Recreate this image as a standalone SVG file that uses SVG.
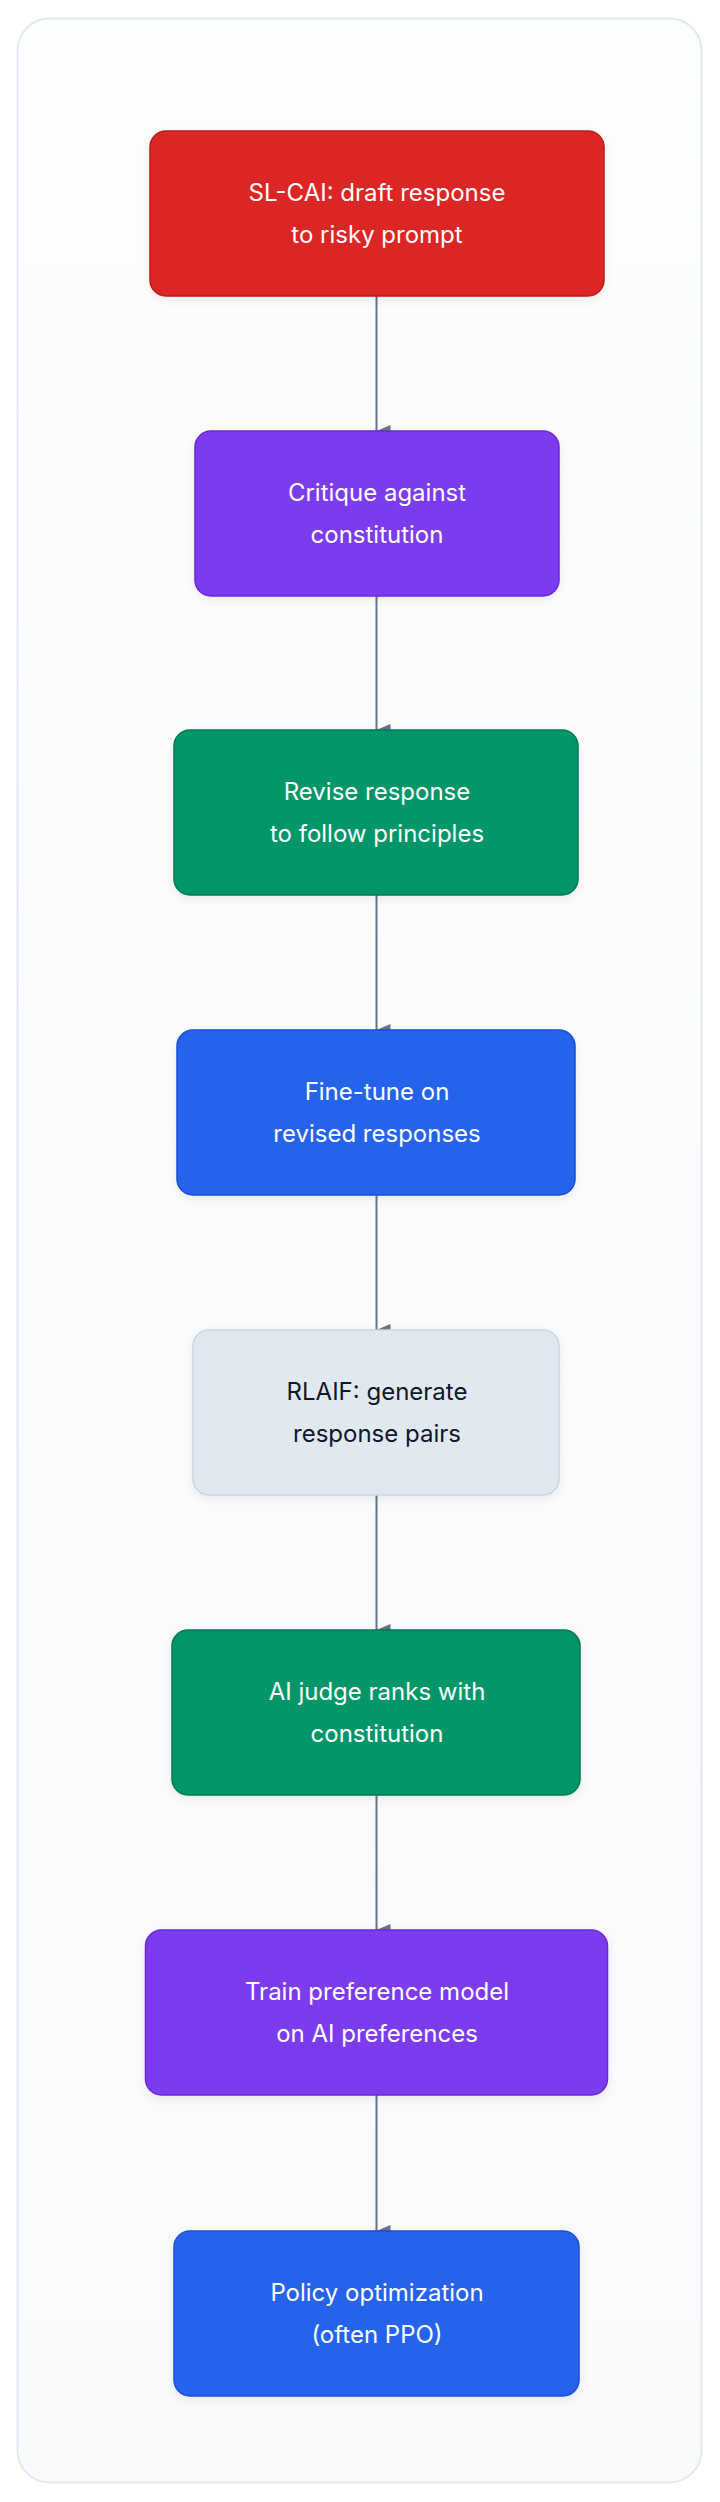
<svg xmlns="http://www.w3.org/2000/svg" width="720" height="2502" viewBox="0 0 720 2502">
<defs>
<linearGradient id="bg" x1="0" y1="0" x2="0" y2="1"><stop offset="0" stop-color="#FDFDFD"/><stop offset="1" stop-color="#F8FAFC"/></linearGradient>
<filter id="sh" x="-10%" y="-10%" width="120%" height="130%"><feDropShadow dx="0" dy="3" stdDeviation="4" flood-color="#0F172A" flood-opacity="0.08"/></filter>
<marker id="ah" markerWidth="12" markerHeight="14" refX="6" refY="14" orient="auto" markerUnits="userSpaceOnUse" viewBox="0 0 12 14"><path d="M0,0 L12,0 L6,14 Z" fill="#64748B"/></marker>
</defs>
<style>
text{font-family:Inter,"Noto Sans","Liberation Sans",sans-serif;font-size:24px;fill:#fff;text-anchor:middle;dominant-baseline:central}
.n rect{filter:url(#sh);stroke-width:1.5}
.red rect{fill:#DC2626;stroke:#B91C1C}
.pur rect{fill:#7C3AED;stroke:#6D28D9}
.grn rect{fill:#059669;stroke:#047857}
.blu rect{fill:#2563EB;stroke:#1D4ED8}
.gry rect{fill:#E2E8F0;stroke:#CBD5E1}
.gry text{fill:#0F172A}
.c line{stroke:#64748B;stroke-width:2;marker-end:url(#ah)}
</style>
<rect x="17.5" y="18.5" width="684" height="2464" rx="32" fill="url(#bg)" stroke="#E2E8F0" stroke-width="2"/>
<g class="c">
<line x1="376.5" y1="296" x2="376.5" y2="431"/>
<line x1="376.5" y1="596" x2="376.5" y2="730"/>
<line x1="376.5" y1="895" x2="376.5" y2="1030"/>
<line x1="376.5" y1="1195" x2="376.5" y2="1330"/>
<line x1="376.5" y1="1495" x2="376.5" y2="1630"/>
<line x1="376.5" y1="1795" x2="376.5" y2="1930"/>
<line x1="376.5" y1="2095" x2="376.5" y2="2231"/>
</g>
<g id="n1" class="n red"><rect x="150" y="131" width="454" height="165" rx="16"/><text x="377" y="192">SL-CAI: draft response</text><text x="377" y="234">to risky prompt</text></g>
<g id="n2" class="n pur"><rect x="195" y="431" width="364" height="165" rx="16"/><text x="377" y="492">Critique against</text><text x="377" y="534">constitution</text></g>
<g id="n3" class="n grn"><rect x="174" y="730" width="404" height="165" rx="16"/><text x="377" y="791">Revise response</text><text x="377" y="833">to follow principles</text></g>
<g id="n4" class="n blu"><rect x="177" y="1030" width="398" height="165" rx="16"/><text x="377" y="1091">Fine-tune on</text><text x="377" y="1133">revised responses</text></g>
<g id="n5" class="n gry"><rect x="193" y="1330" width="366" height="165" rx="16"/><text x="377" y="1391">RLAIF: generate</text><text x="377" y="1433">response pairs</text></g>
<g id="n6" class="n grn"><rect x="172" y="1630" width="408" height="165" rx="16"/><text x="377" y="1691">AI judge ranks with</text><text x="377" y="1733">constitution</text></g>
<g id="n7" class="n pur"><rect x="145.5" y="1930" width="462" height="165" rx="16"/><text x="377" y="1991">Train preference model</text><text x="377" y="2033">on AI preferences</text></g>
<g id="n8" class="n blu"><rect x="174" y="2231" width="405" height="165" rx="16"/><text x="377" y="2292">Policy optimization</text><text x="377" y="2334">(often PPO)</text></g>
</svg>
